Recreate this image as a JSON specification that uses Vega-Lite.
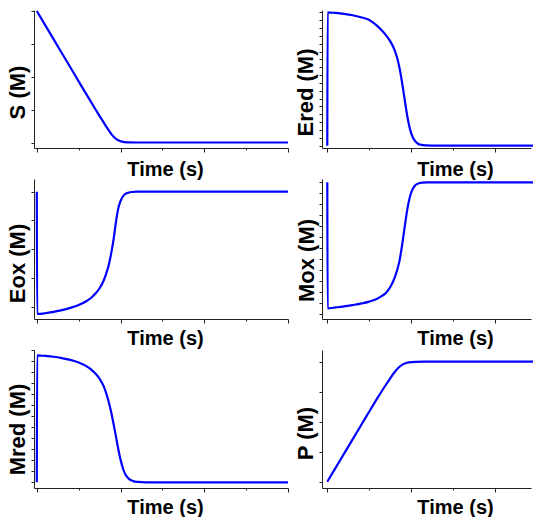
{
  "$schema": "https://vega.github.io/schema/vega-lite/v6.json",
  "usermeta": {"embedOptions": {"actions": false}},
  "background": "white",
  "padding": {"left": 6, "top": 6, "right": 0, "bottom": 0},
  "config": {
    "view": {"stroke": null},
    "axis": {
      "labels": false,
      "grid": false,
      "domainColor": "#222",
      "domainWidth": 1,
      "tickColor": "#222",
      "tickWidth": 1,
      "tickSize": 3,
      "titleColor": "#000",
      "titleFont": "Liberation Sans",
      "titleFontWeight": "bold",
      "titleFontSize": 22
    },
    "line": {"color": "#0000ff", "strokeWidth": 2.2, "interpolate": "monotone", "clip": true}
  },
  "datasets": {
    "S": [
      {"t": 0, "v": 1.0}, {"t": 0.1, "v": 0.893}, {"t": 0.2, "v": 0.786}, {"t": 0.3, "v": 0.679},
      {"t": 0.4, "v": 0.572}, {"t": 0.5, "v": 0.465}, {"t": 0.6, "v": 0.358}, {"t": 0.7, "v": 0.253},
      {"t": 0.75, "v": 0.201}, {"t": 0.8, "v": 0.151}, {"t": 0.85, "v": 0.101}, {"t": 0.9, "v": 0.056},
      {"t": 0.95, "v": 0.025}, {"t": 1.0, "v": 0.009}, {"t": 1.05, "v": 0.003}, {"t": 1.1, "v": 0.001},
      {"t": 1.2, "v": 0}, {"t": 2, "v": 0}, {"t": 3, "v": 0}
    ],
    "Ered": [
      {"t": 0, "v": 0}, {"t": 0.004, "v": 1.0}, {"t": 0.1, "v": 0.995}, {"t": 0.2, "v": 0.988},
      {"t": 0.3, "v": 0.978}, {"t": 0.4, "v": 0.963}, {"t": 0.5, "v": 0.942}, {"t": 0.55, "v": 0.92},
      {"t": 0.6, "v": 0.894}, {"t": 0.65, "v": 0.863}, {"t": 0.7, "v": 0.827}, {"t": 0.75, "v": 0.782},
      {"t": 0.78, "v": 0.747}, {"t": 0.81, "v": 0.702}, {"t": 0.84, "v": 0.639}, {"t": 0.87, "v": 0.549},
      {"t": 0.9, "v": 0.435}, {"t": 0.93, "v": 0.309}, {"t": 0.96, "v": 0.195}, {"t": 0.99, "v": 0.111},
      {"t": 1.02, "v": 0.06}, {"t": 1.05, "v": 0.031}, {"t": 1.08, "v": 0.015}, {"t": 1.12, "v": 0.006},
      {"t": 1.17, "v": 0.002}, {"t": 1.25, "v": 0.0005}, {"t": 1.35, "v": 0}, {"t": 2, "v": 0},
      {"t": 3, "v": 0}
    ],
    "Eox": [
      {"t": 0, "v": 1.0}, {"t": 0.004, "v": -0.063}, {"t": 0.1, "v": -0.057}, {"t": 0.2, "v": -0.045},
      {"t": 0.3, "v": -0.03}, {"t": 0.4, "v": -0.01}, {"t": 0.5, "v": 0.015}, {"t": 0.6, "v": 0.052},
      {"t": 0.65, "v": 0.078}, {"t": 0.7, "v": 0.115}, {"t": 0.75, "v": 0.16}, {"t": 0.8, "v": 0.23},
      {"t": 0.83, "v": 0.29}, {"t": 0.86, "v": 0.365}, {"t": 0.89, "v": 0.47}, {"t": 0.92, "v": 0.6},
      {"t": 0.95, "v": 0.76}, {"t": 0.98, "v": 0.875}, {"t": 1.01, "v": 0.935}, {"t": 1.04, "v": 0.97},
      {"t": 1.08, "v": 0.988}, {"t": 1.13, "v": 0.997}, {"t": 1.2, "v": 1.0}, {"t": 2, "v": 1.0},
      {"t": 3, "v": 1.0}
    ],
    "Mox": [
      {"t": 0, "v": 1.0}, {"t": 0.004, "v": 0.043}, {"t": 0.1, "v": 0.05}, {"t": 0.2, "v": 0.058},
      {"t": 0.3, "v": 0.068}, {"t": 0.4, "v": 0.079}, {"t": 0.5, "v": 0.094}, {"t": 0.6, "v": 0.118},
      {"t": 0.65, "v": 0.137}, {"t": 0.7, "v": 0.162}, {"t": 0.75, "v": 0.205}, {"t": 0.8, "v": 0.272},
      {"t": 0.83, "v": 0.33}, {"t": 0.86, "v": 0.405}, {"t": 0.89, "v": 0.52}, {"t": 0.92, "v": 0.655},
      {"t": 0.95, "v": 0.785}, {"t": 0.98, "v": 0.88}, {"t": 1.01, "v": 0.94}, {"t": 1.04, "v": 0.972},
      {"t": 1.08, "v": 0.99}, {"t": 1.13, "v": 0.998}, {"t": 1.2, "v": 1.0}, {"t": 2, "v": 1.0},
      {"t": 3, "v": 1.0}
    ],
    "Mred": [
      {"t": 0, "v": 0}, {"t": 0.004, "v": 0.962}, {"t": 0.1, "v": 0.958}, {"t": 0.2, "v": 0.952},
      {"t": 0.3, "v": 0.942}, {"t": 0.4, "v": 0.928}, {"t": 0.5, "v": 0.908}, {"t": 0.6, "v": 0.877},
      {"t": 0.65, "v": 0.855}, {"t": 0.7, "v": 0.825}, {"t": 0.75, "v": 0.785}, {"t": 0.8, "v": 0.727},
      {"t": 0.85, "v": 0.63}, {"t": 0.88, "v": 0.555}, {"t": 0.91, "v": 0.465}, {"t": 0.94, "v": 0.365},
      {"t": 0.97, "v": 0.262}, {"t": 1.0, "v": 0.172}, {"t": 1.03, "v": 0.103}, {"t": 1.06, "v": 0.057},
      {"t": 1.1, "v": 0.026}, {"t": 1.15, "v": 0.009}, {"t": 1.2, "v": 0.003}, {"t": 1.3, "v": 0},
      {"t": 2, "v": 0}, {"t": 3, "v": 0}
    ],
    "P": [
      {"t": 0, "v": 0}, {"t": 0.1, "v": 0.117}, {"t": 0.2, "v": 0.234}, {"t": 0.3, "v": 0.351},
      {"t": 0.4, "v": 0.468}, {"t": 0.5, "v": 0.585}, {"t": 0.6, "v": 0.7}, {"t": 0.7, "v": 0.81},
      {"t": 0.75, "v": 0.862}, {"t": 0.8, "v": 0.912}, {"t": 0.85, "v": 0.952}, {"t": 0.9, "v": 0.978},
      {"t": 0.95, "v": 0.991}, {"t": 1.0, "v": 0.997}, {"t": 1.05, "v": 0.999}, {"t": 1.15, "v": 1.0},
      {"t": 2, "v": 1.0}, {"t": 3, "v": 1.0}
    ]
  },
  "bounds": "flush",
  "align": "each",
  "spacing": {"row": 31, "column": 34},
  "columns": 2,
  "concat": [
    {
      "width": 254, "height": 138,
      "data": {"name": "S"},
      "mark": {"type": "line"},
      "encoding": {
        "x": {"field": "t", "type": "quantitative",
          "scale": {"domain": [-0.0335, 3], "nice": false, "zero": false},
          "axis": {"values": [0, 0.5, 1, 1.5, 2, 2.5, 3], "title": "Time (s)",
            "tickSize": {"condition": {"test": "datum.value % 1 === 0", "value": 4}, "value": 2},
            "titleFontSize": 20, "titleX": 131, "titleY": 27,
            "titleBaseline": "alphabetic", "titleAlign": "center"}},
        "y": {"field": "v", "type": "quantitative",
          "scale": {"domain": [-0.0418, 1.0076], "nice": false, "zero": false},
          "axis": {"values": [0, 0.25, 0.5, 0.75, 1], "title": "S (M)",
            "titleX": -17, "titleY": 82, "titleBaseline": "middle", "titleAlign": "center"}}
      }
    },
    {
      "width": 209, "height": 138,
      "data": {"name": "Ered"},
      "mark": {"type": "line"},
      "encoding": {
        "x": {"field": "t", "type": "quantitative",
          "scale": {"domain": [-0.063, 2.425], "nice": false, "zero": false},
          "axis": {"values": [0, 0.5, 1, 1.5, 2], "title": "Time (s)",
            "tickSize": {"condition": {"test": "datum.value % 1 === 0", "value": 4}, "value": 2},
            "titleFontSize": 20, "titleX": 133, "titleY": 27,
            "titleBaseline": "alphabetic", "titleAlign": "center"}},
        "y": {"field": "v", "type": "quantitative",
          "scale": {"domain": [-0.0172, 1.0172], "nice": false, "zero": false},
          "axis": {"values": [0, 0.0588, 0.1176, 0.1765, 0.2353, 0.2941, 0.3529, 0.4118, 0.4706, 0.5294, 0.5882, 0.6471, 0.7059, 0.7647, 0.8235, 0.8824, 0.9412, 1],
            "title": "Ered (M)",
            "titleX": -17, "titleY": 82, "titleBaseline": "middle", "titleAlign": "center"}}
      }
    },
    {
      "width": 254, "height": 140,
      "data": {"name": "Eox"},
      "mark": {"type": "line"},
      "encoding": {
        "x": {"field": "t", "type": "quantitative",
          "scale": {"domain": [-0.0335, 3], "nice": false, "zero": false},
          "axis": {"values": [0, 0.5, 1, 1.5, 2, 2.5, 3], "title": "Time (s)",
            "tickSize": {"condition": {"test": "datum.value % 1 === 0", "value": 4}, "value": 2},
            "titleFontSize": 20, "titleX": 131, "titleY": 25,
            "titleBaseline": "alphabetic", "titleAlign": "center"}},
        "y": {"field": "v", "type": "quantitative",
          "scale": {"domain": [-0.107, 1.11], "nice": false, "zero": false},
          "axis": {"values": [0, 0.25, 0.5, 0.75, 1], "title": "Eox (M)",
            "titleX": -17, "titleY": 84, "titleBaseline": "middle", "titleAlign": "center"}}
      }
    },
    {
      "width": 209, "height": 140,
      "data": {"name": "Mox"},
      "mark": {"type": "line"},
      "encoding": {
        "x": {"field": "t", "type": "quantitative",
          "scale": {"domain": [-0.063, 2.425], "nice": false, "zero": false},
          "axis": {"values": [0, 0.5, 1, 1.5, 2], "title": "Time (s)",
            "tickSize": {"condition": {"test": "datum.value % 1 === 0", "value": 4}, "value": 2},
            "titleFontSize": 20, "titleX": 133, "titleY": 25,
            "titleBaseline": "alphabetic", "titleAlign": "center"}},
        "y": {"field": "v", "type": "quantitative",
          "scale": {"domain": [-0.038, 1.025], "nice": false, "zero": false},
          "axis": {"values": [0, 0.0833, 0.1667, 0.25, 0.3333, 0.4167, 0.5, 0.5833, 0.6667, 0.75, 0.8333, 0.9167, 1],
            "title": "Mox (M)",
            "titleX": -16, "titleY": 81, "titleBaseline": "middle", "titleAlign": "center"}}
      }
    },
    {
      "width": 254, "height": 138,
      "data": {"name": "Mred"},
      "mark": {"type": "line"},
      "encoding": {
        "x": {"field": "t", "type": "quantitative",
          "scale": {"domain": [-0.0335, 3], "nice": false, "zero": false},
          "axis": {"values": [0, 0.5, 1, 1.5, 2, 2.5, 3], "title": "Time (s)",
            "tickSize": {"condition": {"test": "datum.value % 1 === 0", "value": 4}, "value": 2},
            "titleFontSize": 20, "titleX": 131, "titleY": 25,
            "titleBaseline": "alphabetic", "titleAlign": "center"}},
        "y": {"field": "v", "type": "quantitative",
          "scale": {"domain": [-0.0431, 1.003], "nice": false, "zero": false},
          "axis": {"values": [0, 0.0833, 0.1667, 0.25, 0.3333, 0.4167, 0.5, 0.5833, 0.6667, 0.75, 0.8333, 0.9167, 1],
            "title": "Mred (M)",
            "titleX": -17, "titleY": 79, "titleBaseline": "middle", "titleAlign": "center"}}
      }
    },
    {
      "width": 209, "height": 138,
      "data": {"name": "P"},
      "mark": {"type": "line"},
      "encoding": {
        "x": {"field": "t", "type": "quantitative",
          "scale": {"domain": [-0.063, 2.425], "nice": false, "zero": false},
          "axis": {"values": [0, 0.5, 1, 1.5, 2], "title": "Time (s)",
            "tickSize": {"condition": {"test": "datum.value % 1 === 0", "value": 4}, "value": 2},
            "titleFontSize": 20, "titleX": 133, "titleY": 25,
            "titleBaseline": "alphabetic", "titleAlign": "center"}},
        "y": {"field": "v", "type": "quantitative",
          "scale": {"domain": [-0.0525, 1.0975], "nice": false, "zero": false},
          "axis": {"values": [0, 0.25, 0.5, 0.75, 1], "title": "P (M)",
            "titleX": -17, "titleY": 83, "titleBaseline": "middle", "titleAlign": "center"}}
      }
    }
  ]
}
